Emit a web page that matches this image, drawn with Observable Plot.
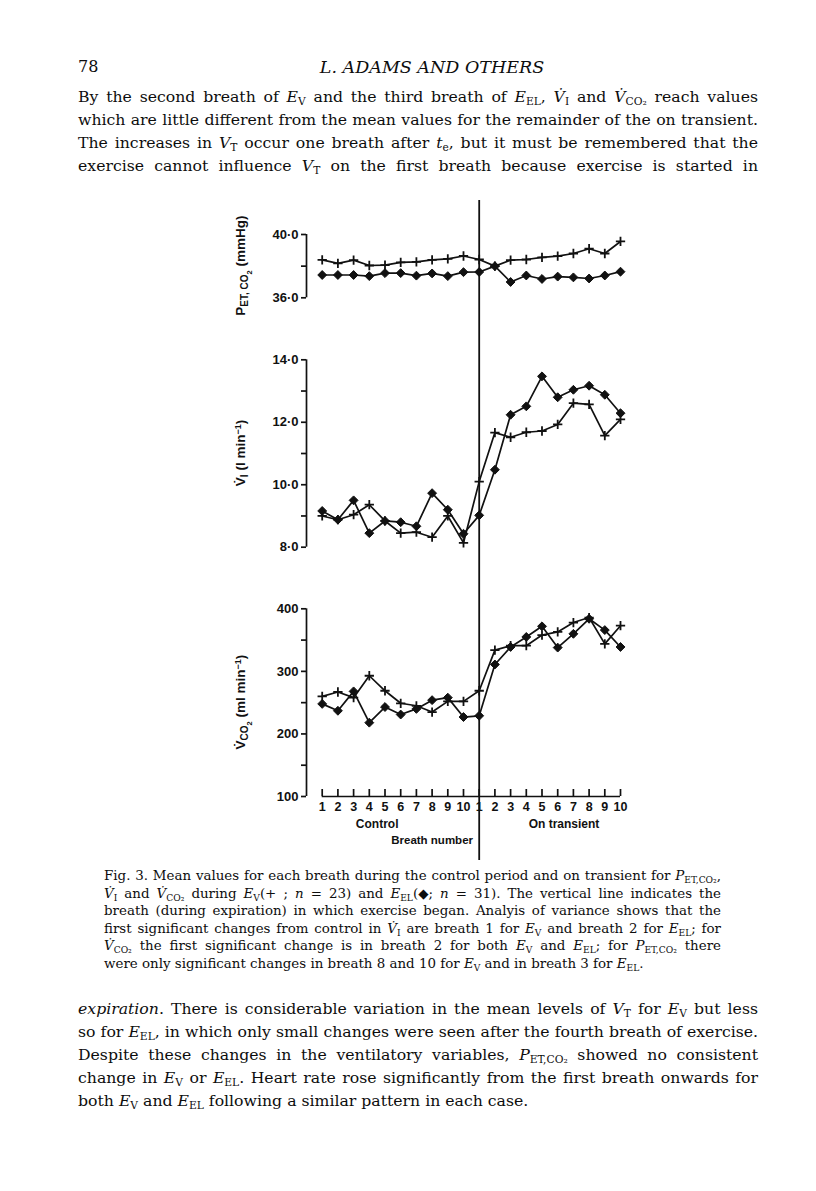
<!DOCTYPE html>
<html><head><meta charset="utf-8">
<script src="https://cdn.jsdelivr.net/npm/d3@7"></script>
<script src="https://cdn.jsdelivr.net/npm/@observablehq/plot@0.6"></script>
<style>
body{margin:0;background:#fff;}
#page{position:relative;width:816px;height:1191px;overflow:hidden;background:#fff;color:#0d0d0d;font-family:"DejaVu Serif",serif;}
.line{position:absolute;white-space:nowrap;line-height:20px;height:20px;}
.line sub{font-size:0.68em;vertical-align:-0.28em;line-height:0;font-style:normal;}
.line i{font-style:italic;}
svg.panel{position:absolute;left:0;}
</style></head><body><div id="page"></div><script>
// ---------------- data ----------------
const breathLabels = ["1","2","3","4","5","6","7","8","9","10","1","2","3","4","5","6","7","8","9","10"];
// P_ET,CO2 (mmHg)
const petco2EV  = [38.40,38.18,38.38,38.04,38.07,38.24,38.27,38.40,38.46,38.64,38.42,38.00,38.38,38.42,38.56,38.63,38.80,39.10,38.80,39.56];
const petco2EEL = [37.44,37.44,37.44,37.37,37.56,37.56,37.40,37.54,37.37,37.62,37.63,38.00,37.00,37.41,37.19,37.34,37.29,37.22,37.41,37.65];
// V_I (l/min)
const viEV  = [9.00,8.88,9.04,9.36,8.84,8.45,8.48,8.32,9.00,8.14,10.10,11.67,11.52,11.68,11.72,11.93,12.61,12.57,11.57,12.09];
const viEEL = [9.16,8.88,9.50,8.45,8.84,8.80,8.67,9.73,9.20,8.43,9.02,10.48,12.24,12.51,13.47,12.80,13.04,13.17,12.88,12.29];
// V_CO2 (ml/min)
const vco2EV  = [260,267,258,293,269,249,245,235,252,252,269,334,341,341,358,363,378,386,344,373];
const vco2EEL = [248,237,268,218,243,231,240,254,258,227,229,311,339,355,372,338,360,384,366,339];
const exerciseStart = 10; // index of first on-transient breath
const groupLabels = [{label:"Control", pos:3.5},{label:"On transient", pos:15.4}];
const xTitle = [{label:"Breath number", pos:7.0}];

// ---------------- layout ----------------
const page = document.getElementById("page");
const dot = s => s.replace(".", "\u00b7");
const idx = breathLabels.map((_, i) => i);
const INK = "#111";

function panel(o){
  const frameH = o.height - o.marginTop - o.marginBottom;
  const ev = o.ev.map((v,i)=>({i,v})), eel = o.eel.map((v,i)=>({i,v}));
  const marks = [
    Plot.ruleX([-1], {strokeWidth:1.7, stroke:INK}),
    Plot.axisY({ticks:o.ticks, tickFormat:o.fmt, tickSize:5, tickPadding:3, anchor:"left", label:null, strokeWidth:1.7, stroke:INK, fontSize:13}),
    Plot.ruleX([exerciseStart], {insetTop:-o.marginTop, insetBottom:-o.vBottom, strokeWidth:1.8, stroke:INK}),
    Plot.line(ev, {x:"i", y:"v", stroke:INK, strokeWidth:1.7}),
    Plot.line(eel, {x:"i", y:"v", stroke:INK, strokeWidth:1.7}),
    Plot.dot(ev, {x:"i", y:"v", symbol:"plus", r:3.1, stroke:INK, strokeWidth:1.8}),
    Plot.dot(eel, {x:"i", y:"v", symbol:"diamond2", r:4.0, fill:INK, stroke:INK, strokeWidth:1})
  ];
  if (o.xaxis){
    marks.push(
      Plot.ruleY([o.domain[0]], {x1: idx[0], x2: idx[idx.length-1], strokeWidth:1.7, stroke:INK}),
      Plot.ruleX(idx, {x:d=>d, insetTop: frameH - 7, strokeWidth:1.7, stroke:INK}),
      Plot.axisX({ticks: idx, tickFormat: i => breathLabels[i], tickSize:0, tickPadding:6, anchor:"bottom", label:null, fontSize:12.5}),
      Plot.text(groupLabels, {x:"pos", text:"label", frameAnchor:"bottom", dy:31, fontSize:12}),
      Plot.text(xTitle, {x:"pos", text:"label", frameAnchor:"bottom", dy:47, fontSize:11.5})
    );
  }
  const svg = Plot.plot({
    width:816, height:o.height, marginLeft:306, marginRight:196, marginTop:o.marginTop, marginBottom:o.marginBottom,
    x:{domain:[-1, idx.length-1], ...(o.xaxis?{}:{axis:null})},
    y:{domain:o.domain},
    style:{fontFamily:"'Liberation Sans', Arial, sans-serif", fontSize:"12px", fontWeight:"bold", color:INK, background:"transparent", overflow:"visible"},
    marks
  });
  svg.classList.add("panel");
  svg.style.top = o.top + "px";
  page.appendChild(svg);
  // rotated y label with sub/superscripts
  const cy = o.marginTop + frameH/2;
  const t = d3.select(svg).append("text")
    .attr("transform", `translate(245,${cy}) rotate(-90)`)
    .attr("text-anchor","middle").attr("fill",INK)
    .attr("font-size", 13.5).attr("font-weight","bold")
    .attr("font-family","'Liberation Sans', Arial, sans-serif");
  let cur = 0;
  o.label.forEach(([txt, lvl]) => {
    const off = lvl * 3.4;
    const ts = t.append("tspan").attr("dy", off - cur).text(txt);
    if (lvl > 0) ts.attr("font-size", lvl===1 ? 10 : 7.5);
    if (lvl < 0) ts.attr("font-size", 9);
    cur = off;
  });
}

panel({top:200, height:135, marginTop:34, marginBottom:37.7, vBottom:37.7, domain:[36,40], ticks:[36,38,40],
  fmt:d => d===38 ? "" : dot(d3.format(".1f")(d)), ev:petco2EV, eel:petco2EEL,
  label:[["P",0],["ET, CO",1],["2",2],[" (mmHg)",0]]});
panel({top:335, height:250, marginTop:24.3, marginBottom:38.3, vBottom:38.3, domain:[8,14], ticks:d3.range(8,15),
  fmt:d => d%2 ? "" : dot(d3.format(".1f")(d)), ev:viEV, eel:viEEL,
  label:[["V\u0307",0],["I",1],[" (l min",0],["\u22121",-1.2],[")",0]]});
panel({top:585, height:295, marginTop:23.3, marginBottom:84, vBottom:64, domain:[100,400], ticks:d3.range(100,401,50),
  fmt:d => d%100 ? "" : String(d), ev:vco2EV, eel:vco2EEL, xaxis:true,
  label:[["V\u0307",0],["CO",1],["2",2],[" (ml min",0],["\u22121",-1.2],[")",0]]});

// ---------------- text ----------------
function line(html, o){
  const d = document.createElement("div");
  d.className = "line";
  d.style.left = o.left + "px";
  d.style.top = (o.cy - 11) + "px";
  d.style.fontSize = o.size + "px";
  if (o.italic) d.style.fontStyle = "italic";
  d.innerHTML = `<span>${html}</span>`;
  page.appendChild(d);
  const span = d.firstChild;
  if (o.center){ const w = span.getBoundingClientRect().width; d.style.left = (o.center - w/2) + "px"; }
  if (o.width){
    let w = span.getBoundingClientRect().width;
    const chars = span.textContent.length;
    if (w > o.width) { // tighten letters a little if too long
      span.style.letterSpacing = Math.max(-0.4, (o.width - w) / chars) + "px";
      w = span.getBoundingClientRect().width;
    }
    const n = (span.textContent.match(/ /g)||[]).length;
    span.style.wordSpacing = ((o.width - w)/n) + "px";
  }
}
const E = s => `<i>E</i><sub>${s}</sub>`, V = s => `<i>V</i><sub>${s}</sub>`, VD = s => `<i>V\u0307</i><sub>${s}</sub>`, P = `<i>P</i><sub>ET,CO₂</sub>`;
line("78", {left:78, cy:68, size:16});
line("L. ADAMS AND OTHERS", {center:432, cy:68, size:17.5, italic:true});

const body = {left:78, width:680, size:15.7};
[
 `By the second breath of ${E("V")} and the third breath of ${E("EL")}, ${VD("I")} and ${VD("CO₂")} reach values`,
 `which are little different from the mean values for the remainder of the on transient.`,
 `The increases in ${V("T")} occur one breath after <i>t</i><sub>e</sub>, but it must be remembered that the`,
 `exercise cannot influence ${V("T")} on the first breath because exercise is started in`
].forEach((h,k) => line(h, {...body, cy:98 + 23*k}));

const cap = {left:104, size:13.4};
[
 `Fig. 3. Mean values for each breath during the control period and on transient for ${P},`,
 `${VD("I")} and ${VD("CO₂")} during ${E("V")}(+ ; <i>n</i> = 23) and ${E("EL")}(◆; <i>n</i> = 31). The vertical line indicates the`,
 `breath (during expiration) in which exercise began. Analyis of variance shows that the`,
 `first significant changes from control in ${VD("I")} are breath 1 for ${E("V")} and breath 2 for ${E("EL")}; for`,
 `${VD("CO₂")} the first significant change is in breath 2 for both ${E("V")} and ${E("EL")}; for ${P} there`,
 `were only significant changes in breath 8 and 10 for ${E("V")} and in breath 3 for ${E("EL")}.`
].forEach((h,k) => line(h, {...cap, cy:877 + 17.6*k, width: k<5 ? 617 : null}));

[
 `<i>expiration</i>. There is considerable variation in the mean levels of ${V("T")} for ${E("V")} but less`,
 `so for ${E("EL")}, in which only small changes were seen after the fourth breath of exercise.`,
 `Despite these changes in the ventilatory variables, ${P} showed no consistent`,
 `change in ${E("V")} or ${E("EL")}. Heart rate rose significantly from the first breath onwards for`,
 `both ${E("V")} and ${E("EL")} following a similar pattern in each case.`
].forEach((h,k) => line(h, {...body, cy:1010 + 23*k, width: k<4 ? 680 : null}));
</script></body></html>
